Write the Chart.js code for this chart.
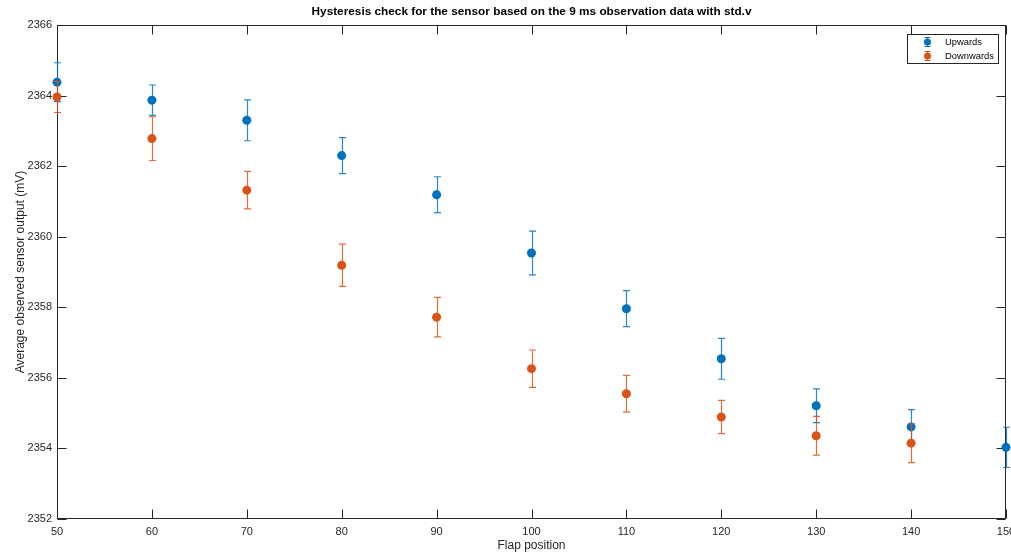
<!DOCTYPE html>
<html>
<head>
<meta charset="utf-8">
<script src="https://cdn.jsdelivr.net/npm/chart.js@4.4.1/dist/chart.umd.min.js"></script>
<style>
  html, body { margin: 0; padding: 0; background: #fff; }
  #wrap { width: 1011px; height: 555px; }
</style>
</head>
<body>
<div id="wrap"><canvas id="chart"></canvas></div>
<script>
// flap positions and measured means / std deviations (mV)
const flapPos = [50, 60, 70, 80, 90, 100, 110, 120, 130, 140, 150];
const upMean = [2364.38, 2363.87, 2363.30, 2362.30, 2361.19, 2359.54, 2357.96, 2356.54, 2355.21, 2354.61, 2354.03];
const upStd = [0.55, 0.43, 0.58, 0.51, 0.51, 0.62, 0.51, 0.58, 0.48, 0.49, 0.57];
const downPos = [50, 60, 70, 80, 90, 100, 110, 120, 130, 140];
const downMean = [2363.96, 2362.78, 2361.32, 2359.19, 2357.72, 2356.26, 2355.55, 2354.89, 2354.36, 2354.15];
const downStd = [0.44, 0.62, 0.53, 0.60, 0.56, 0.53, 0.52, 0.47, 0.55, 0.55];

const blue = '#0072BD';
const orange = '#D95319';
const axisColor = '#262626';
const fontFam = '"Liberation Sans", Arial, Helvetica, sans-serif';

function toPoints(xs, ys, sd) {
    var pts = [];
    xs.forEach((x, i) => {
        pts.push({ x: x, y: ys[i], sd: sd[i] });
    });
    return pts;
}

// error bars drawn before each dataset's markers, using the chart scales
const errorBars = {
    id: 'errorBars',
    beforeDatasetDraw(chart, args) {
        const ds = chart.data.datasets[args.index];
        const xs = chart.scales.x, ys = chart.scales.y;
        const ctx = chart.ctx;
        ctx.save();
        ctx.strokeStyle = ds.barColor;
        ctx.lineWidth = 1.2;
        ds.data.forEach(p => {
            const px = Math.round(xs.getPixelForValue(p.x)) + 0.5;
            const yt = ys.getPixelForValue(p.y + p.sd);
            const yb = ys.getPixelForValue(p.y - p.sd);
            ctx.beginPath();
            ctx.moveTo(px, yt); ctx.lineTo(px, yb);
            ctx.moveTo(px - 3.5, yt); ctx.lineTo(px + 3.5, yt);
            ctx.moveTo(px - 3.5, yb); ctx.lineTo(px + 3.5, yb);
            ctx.stroke();
        });
        ctx.restore();
    }
};

// MATLAB-like box, inward ticks, title and legend
const frame = {
    id: 'frame',
    beforeDatasetsDraw(chart) {
        const ctx = chart.ctx;
        const a = chart.chartArea;
        const xs = chart.scales.x, ys = chart.scales.y;
        const L = Math.round(a.left) + 0.5, R = Math.round(a.right) - 0.5;
        const T = Math.round(a.top) + 0.5, B = Math.round(a.bottom) - 0.5;
        ctx.save();
        ctx.strokeStyle = axisColor;
        ctx.lineWidth = 1;
        ctx.strokeRect(L, T, R - L, B - T);
        ctx.beginPath();
        const tl = 9;
        xs.ticks.forEach(t => {
            const px = Math.round(xs.getPixelForValue(t.value)) + 0.5;
            ctx.moveTo(px, B); ctx.lineTo(px, B - tl);
            ctx.moveTo(px, T); ctx.lineTo(px, T + tl);
        });
        ys.ticks.forEach(t => {
            const py = Math.round(ys.getPixelForValue(t.value)) + 0.5;
            ctx.moveTo(L, py); ctx.lineTo(L + tl, py);
            ctx.moveTo(R, py); ctx.lineTo(R - tl, py);
        });
        ctx.stroke();

        // title
        ctx.fillStyle = '#000';
        ctx.font = 'bold 11.8px ' + fontFam;
        ctx.textAlign = 'center';
        ctx.textBaseline = 'middle';
        ctx.fillText('Hysteresis check for the sensor based on the 9 ms observation data with std.v', (a.left + a.right) / 2, 12);
        ctx.restore();
    },
    afterDatasetsDraw(chart) {
        const ctx = chart.ctx;
        ctx.save();
        // legend
        const bx = 907.5, by = 34.5, bw = 91, bh = 29;
        ctx.fillStyle = '#fff';
        ctx.fillRect(bx, by, bw, bh);
        ctx.strokeStyle = axisColor;
        ctx.lineWidth = 1;
        ctx.strokeRect(bx, by, bw, bh);
        const items = [
            { label: 'Upwards', color: blue, y: 42 },
            { label: 'Downwards', color: orange, y: 56 }
        ];
        ctx.font = '9.4px ' + fontFam;
        ctx.textAlign = 'left';
        ctx.textBaseline = 'middle';
        items.forEach(it => {
            const ix = 927.5;
            ctx.strokeStyle = it.color;
            ctx.beginPath();
            ctx.moveTo(ix, it.y - 4.5); ctx.lineTo(ix, it.y + 4.5);
            ctx.moveTo(ix - 3, it.y - 4.5); ctx.lineTo(ix + 3, it.y - 4.5);
            ctx.moveTo(ix - 3, it.y + 4.5); ctx.lineTo(ix + 3, it.y + 4.5);
            ctx.stroke();
            ctx.fillStyle = it.color;
            ctx.beginPath();
            ctx.arc(ix, it.y, 3.5, 0, Math.PI * 2);
            ctx.fill();
            ctx.fillStyle = '#000';
            ctx.fillText(it.label, 945, it.y);
        });
        ctx.restore();
    }
};

const ctx = document.getElementById('chart');

const data = {
    datasets: [{
        label: 'Upwards',
        data: toPoints(flapPos, upMean, upStd),
        borderColor: blue,
        backgroundColor: blue,
        barColor: 'rgba(0, 114, 189, 0.85)',
        pointRadius: 4.5,
        pointBorderWidth: 0,
        showLine: false,
        clip: false,
        order: 2
    }, {
        label: 'Downwards',
        data: toPoints(downPos, downMean, downStd),
        borderColor: orange,
        backgroundColor: orange,
        barColor: 'rgba(217, 83, 25, 0.85)',
        pointRadius: 4.5,
        pointBorderWidth: 0,
        showLine: false,
        clip: false,
        order: 1
    }]
};

const tickFmt = v => String(v);

const config = {
    type: 'scatter',
    data: data,
    plugins: [errorBars, frame],
    options: {
        responsive: true,
        maintainAspectRatio: false,
        animation: false,
        layout: { padding: { top: 25, right: 5, left: 13, bottom: 0 } },
        plugins: {
            legend: { display: false },
            tooltip: { enabled: false }
        },
        scales: {
            x: {
                type: 'linear',
                position: 'bottom',
                min: 50,
                max: 150,
                ticks: { stepSize: 10, color: axisColor, padding: 6, callback: tickFmt, font: { family: fontFam, size: 11 } },
                grid: { display: false, drawTicks: false },
                border: { display: false },
                title: { display: true, text: 'Flap position', color: axisColor, padding: { top: 0, bottom: 2 }, font: { family: fontFam, size: 12 } },
                afterFit: s => { s.height = 36; s.paddingRight = 0; s.paddingLeft = 0; }
            },
            y: {
                type: 'linear',
                min: 2352,
                max: 2366,
                ticks: { stepSize: 2, color: axisColor, padding: 5, callback: tickFmt, font: { family: fontFam, size: 11 } },
                grid: { display: false, drawTicks: false },
                border: { display: false },
                title: { display: true, text: 'Average observed sensor output (mV)', color: axisColor, padding: { top: 0, bottom: 0 }, font: { family: fontFam, size: 12 } },
                afterFit: s => { s.width = 44; s.paddingTop = 0; s.paddingBottom = 0; }
            }
        }
    }
};

new Chart(ctx, config);
</script>
</body>
</html>
